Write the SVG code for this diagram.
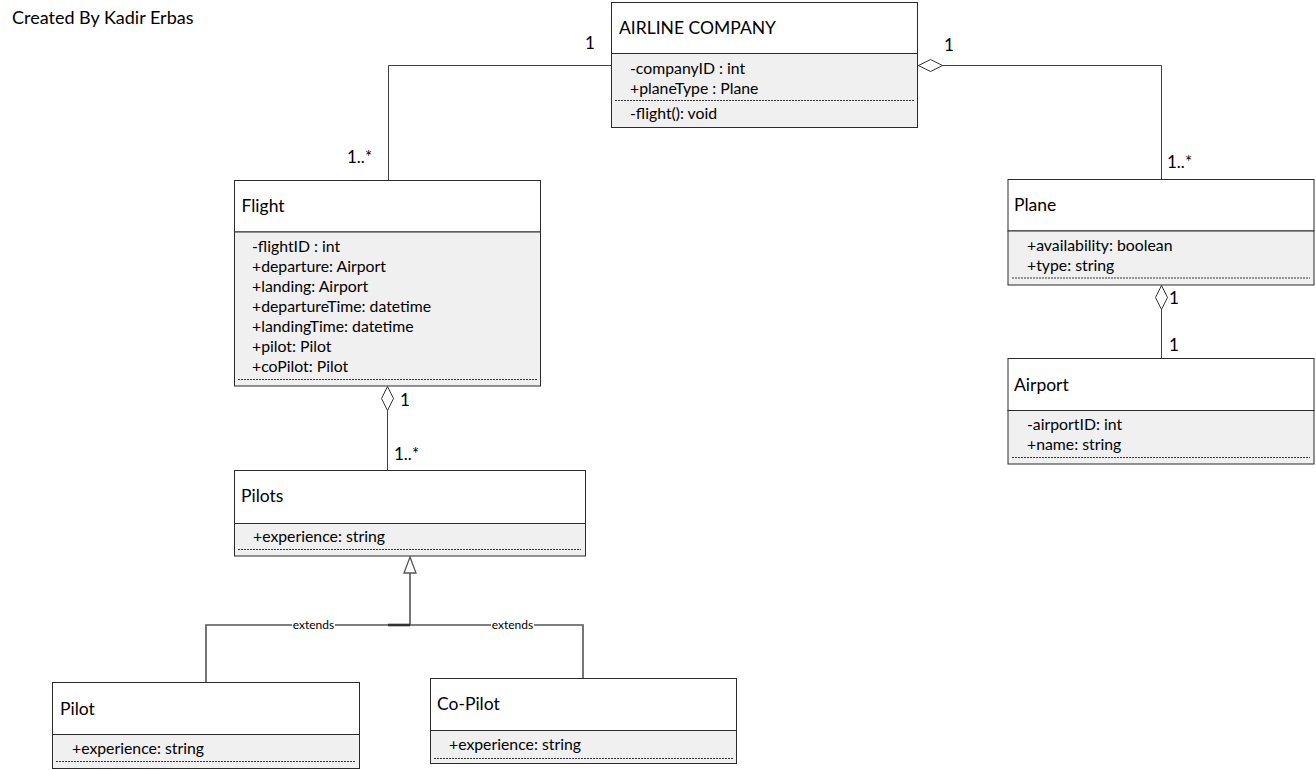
<svg xmlns="http://www.w3.org/2000/svg" width="1316" height="770" viewBox="0 0 1316 770">
<style>
  .box { fill: #ffffff; stroke: #2b2b2b; stroke-width: 1; }
  .comp { fill: #f0f0f0; stroke: #2b2b2b; stroke-width: 1; }
  .dots { stroke: #333333; stroke-width: 1; stroke-dasharray: 2 1; fill: none; }
  .title { font-family: Lato, "Liberation Sans", sans-serif; font-size: 17.5px; fill: #000; }
  .attr { font-family: Lato, "Liberation Sans", sans-serif; font-size: 15.8px; fill: #000; }
  .mult { font-family: Lato, "Liberation Sans", sans-serif; font-size: 17px; fill: #000; }
  .credit { font-family: Lato, "Liberation Sans", sans-serif; font-size: 18px; fill: #000; }
  .small { font-family: Lato, "Liberation Sans", sans-serif; font-size: 12px; fill: #000; }
  .line { fill: none; stroke: #404040; stroke-width: 1; }
  .gen { fill: none; stroke: #555555; stroke-width: 1.6; }
  .diamond { fill: #ffffff; stroke: #333333; stroke-width: 1; }
</style>
<rect width="1316" height="770" fill="#ffffff"/>
<text class="credit" x="12" y="24">Created By Kadir Erbas</text>

<g id="connectors">
  <!-- Airline -> Flight -->
  <polyline class="line" points="611,65.5 388.5,65.5 388.5,180"/>
  <text class="mult" x="585" y="49">1</text>
  <text class="mult" x="347" y="163">1..*</text>
  <!-- Airline <>- Plane -->
  <polyline class="line" points="942,65.5 1161.5,65.5 1161.5,179"/>
  <polygon class="diamond" points="918.5,65.5 930.5,59.5 942.5,65.5 930.5,71.5"/>
  <text class="mult" x="944" y="51">1</text>
  <text class="mult" x="1167" y="168">1..*</text>
  <!-- Flight <>- Pilots -->
  <line class="line" x1="387.5" y1="410" x2="387.5" y2="470"/>
  <polygon class="diamond" points="387.5,386.5 393.5,398.5 387.5,410.5 381.5,398.5"/>
  <text class="mult" x="400" y="406">1</text>
  <text class="mult" x="394" y="460">1..*</text>
  <!-- Plane <>- Airport -->
  <line class="line" x1="1161.5" y1="309" x2="1161.5" y2="358"/>
  <polygon class="diamond" points="1161.5,285.5 1167.5,297.5 1161.5,309.5 1155.5,297.5"/>
  <text class="mult" x="1169" y="304">1</text>
  <text class="mult" x="1169" y="351">1</text>
  <!-- Generalization -->
  <line class="gen" x1="410" y1="573" x2="410" y2="625"/>
  <polyline class="gen" points="206,682 206,625 583,625 583,678"/>
  <line x1="388" y1="625" x2="410" y2="625" stroke="#333333" stroke-width="2.6"/>
  <polygon points="410,557 416,573 404,573" fill="#ffffff" stroke="#555555" stroke-width="1.3"/>
  <rect x="292" y="619" width="43" height="12" fill="#ffffff"/>
  <text class="small" x="313.5" y="629" text-anchor="middle">extends</text>
  <rect x="491" y="619" width="43" height="12" fill="#ffffff"/>
  <text class="small" x="512.5" y="629" text-anchor="middle">extends</text>
</g>

<g id="airline">
  <rect class="box" x="611.5" y="2.5" width="306" height="51"/>
  <rect class="comp" x="611.5" y="53.5" width="306" height="74"/>
  <line class="dots" x1="615" y1="100.5" x2="914" y2="100.5"/>
  <text class="title" x="619" y="34">AIRLINE COMPANY</text>
  <text class="attr" x="630" y="74">-companyID : int</text>
  <text class="attr" x="630" y="94">+planeType : Plane</text>
  <text class="attr" x="630" y="119">-flight(): void</text>
</g>

<g id="flight">
  <rect class="box" x="234.5" y="180.5" width="306" height="51.5"/>
  <rect class="comp" x="234.5" y="232" width="306" height="154"/>
  <line class="dots" x1="238" y1="379.5" x2="537" y2="379.5"/>
  <text class="title" x="241.5" y="212">Flight</text>
  <text class="attr" x="252" y="252">-flightID : int</text>
  <text class="attr" x="252" y="272">+departure: Airport</text>
  <text class="attr" x="252" y="292">+landing: Airport</text>
  <text class="attr" x="252" y="312">+departureTime: datetime</text>
  <text class="attr" x="252" y="332">+landingTime: datetime</text>
  <text class="attr" x="252" y="352">+pilot: Pilot</text>
  <text class="attr" x="252" y="372">+coPilot: Pilot</text>
</g>

<g id="pilots">
  <rect class="box" x="234.5" y="470.5" width="351" height="53"/>
  <rect class="comp" x="234.5" y="523.5" width="351" height="32.5"/>
  <line class="dots" x1="238" y1="549.5" x2="581" y2="549.5"/>
  <text class="title" x="241" y="502">Pilots</text>
  <text class="attr" x="253" y="542">+experience: string</text>
</g>

<g id="pilot">
  <rect class="box" x="52.5" y="682.5" width="307" height="52"/>
  <rect class="comp" x="52.5" y="734.5" width="307" height="34"/>
  <line class="dots" x1="56" y1="761.5" x2="356" y2="761.5"/>
  <text class="title" x="60" y="715">Pilot</text>
  <text class="attr" x="72" y="754">+experience: string</text>
</g>

<g id="copilot">
  <rect class="box" x="430.5" y="678.5" width="306" height="52"/>
  <rect class="comp" x="430.5" y="730.5" width="306" height="33"/>
  <line class="dots" x1="434" y1="758.5" x2="733" y2="758.5"/>
  <text class="title" x="437" y="710">Co-Pilot</text>
  <text class="attr" x="449" y="750">+experience: string</text>
</g>

<g id="plane">
  <rect class="box" x="1008" y="179.5" width="306" height="51.5"/>
  <rect class="comp" x="1008" y="231" width="306" height="54"/>
  <line class="dots" x1="1012" y1="278" x2="1310" y2="278"/>
  <text class="title" x="1014" y="211">Plane</text>
  <text class="attr" x="1027" y="251">+availability: boolean</text>
  <text class="attr" x="1027" y="271">+type: string</text>
</g>

<g id="airport">
  <rect class="box" x="1008" y="358.5" width="306" height="52"/>
  <rect class="comp" x="1008" y="410.5" width="306" height="53.5"/>
  <line class="dots" x1="1012" y1="457.5" x2="1310" y2="457.5"/>
  <text class="title" x="1014" y="391">Airport</text>
  <text class="attr" x="1027" y="430">-airportID: int</text>
  <text class="attr" x="1027" y="450">+name: string</text>
</g>
</svg>
